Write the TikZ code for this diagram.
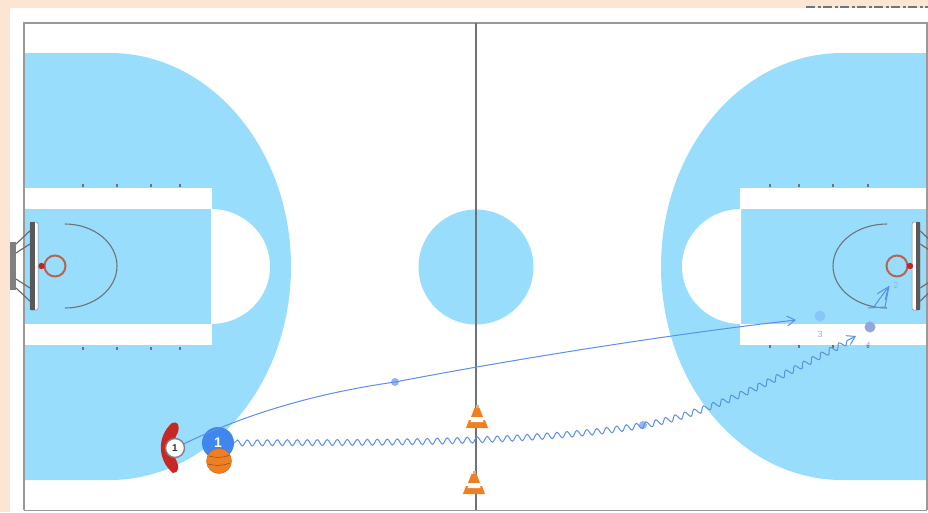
\documentclass[tikz,border=0pt]{standalone}
\usepackage{fontspec}
\setmainfont{Liberation Sans}
\usetikzlibrary{arrows.meta,decorations.pathmorphing}
\definecolor{peach}{HTML}{FCE5D2}
\definecolor{key}{HTML}{99DDFD}
\definecolor{courtline}{HTML}{6E7378}
\definecolor{runblue}{HTML}{5C8FE6}
\definecolor{playerblue}{HTML}{3F86EE}
\definecolor{hoopred}{HTML}{B8624F}
\definecolor{conecol}{HTML}{EE7F22}
\tikzset{
  x=1pt,y=-1pt,
  hash/.style={line width=1.2pt,courtline},
  run/.style={runblue,line width=1pt,-{Straight Barb[length=8pt,width=10pt]}},
  wavy/.style={run,decoration={snake,amplitude=3pt,segment length=10pt,post length=9pt},decorate},
  waydot/.style={circle,fill=runblue!65,inner sep=0pt,minimum size=8pt},
  ghost/.style={circle,inner sep=0pt,minimum size=11pt},
  ghosttext/.style={text=runblue!70,font=\fontsize{9}{9}\selectfont,inner sep=0pt},
  bigplayer/.style={circle,fill=playerblue,text=white,font=\bfseries\fontsize{14}{14}\selectfont,minimum size=32pt,inner sep=0pt},
  smallplayer/.style={circle,fill=white,draw=gray,line width=1.4pt,text=black!80,font=\bfseries\fontsize{10}{10}\selectfont,minimum size=19pt,inner sep=0pt},
  ballnode/.style={circle,fill=conecol,draw=conecol!85!black,line width=.5pt,minimum size=25pt,inner sep=0pt},
  pics/cone/.style={code={
    \fill[conecol] (-11,11) -- (11,11) -- (8,3) -- (-8,3) -- cycle;
    \fill[conecol] (-6,0) -- (6,0) -- (2.5,-9) -- (-2.5,-9) -- cycle;
    \fill[white] (-6.5,5) -- (6.5,5) -- (5,0) -- (-5,0) -- cycle;
    \fill[conecol!70!white] (-1.5,-12) rectangle (1.5,-9);
  }},
  pics/stand/.style={code={
    \fill[gray] (-23,-24) rectangle (-17,24);
    \draw[gray!80!black,line width=1.1pt] (-17,-22) -- (0,-38) (-17,-13) -- (0,-24) (-17,22) -- (0,38) (-17,13) -- (0,24);
    \fill[white,draw=gray,line width=.5pt,rounded corners=1.5pt] (-3,-44) rectangle (5,44);
    \fill[black!65] (-3,-44) rectangle (1.5,44);
  }}
}
\begin{document}
\begin{tikzpicture}
\useasboundingbox (0,0) rectangle (928,512);
\fill[peach] (0,0) rectangle (928,512);
\fill[white] (10,8) rectangle (928,512);
\draw[black!55,line width=1.5pt,dash pattern=on 9pt off 3pt on 3pt off 2pt] (806,7) -- (928,7);
% keys
\begin{scope}
\clip (24,23) rectangle (927,510);
\fill[key] (24,53) -- (110,53) arc[start angle=-90,end angle=90,x radius=181,y radius=213.5] -- (24,480) -- cycle;
\fill[key] (927,53) -- (842,53) arc[start angle=-90,end angle=-270,x radius=181,y radius=213.5] -- (927,480) -- cycle;
\end{scope}
% lanes
\fill[white] (24,188) rectangle (212,345);
\fill[key] (24,209) rectangle (211,324);
\fill[white] (211,209) arc[start angle=-90,end angle=90,x radius=59,y radius=57.5] -- cycle;
\fill[white] (740,188) rectangle (927,345);
\fill[key] (741,209) rectangle (927,324);
\fill[white] (741,209) arc[start angle=-90,end angle=-270,x radius=59,y radius=57.5] -- cycle;
\fill[key] (476,267) circle[radius=57.5];
% lines
\draw[gray!80,line width=1.5pt] (24,510) -- (24,23) -- (927,23) -- (927,510);
\draw[gray!80,line width=1pt] (24,510) -- (927,510);
\draw[courtline,line width=1.6pt] (476,23) -- (476,510);
% ticks
\foreach \x in {83,117,151,180}{
  \draw[hash] (\x,184) -- (\x,187);
  \draw[hash] (\x,347) -- (\x,350);}
\foreach \x in {770,799,833,868}{
  \draw[hash] (\x,184) -- (\x,187);
  \draw[hash] (\x,345) -- (\x,348);}
% restricted arcs
\draw[courtline,line width=1.1pt] (65,224) arc[start angle=-90,end angle=90,x radius=52,y radius=42];
\draw[courtline,line width=1.1pt] (887,224) arc[start angle=-90,end angle=-270,x radius=54,y radius=42];
% backboards
\pic at (33,266) {stand};
\pic[xscale=-1] at (917,266) {stand};
\draw[hoopred,line width=2pt] (55,266) circle[radius=10.5];
\fill[red!70!black!85!white] (41.5,266) circle[radius=3.2];
\draw[hoopred,line width=2pt] (897,266) circle[radius=10.5];
\fill[red!70!black!85!white] (910,266) circle[radius=3.2];
% cones
\pic at (477,417) {cone};
\pic at (474,483) {cone};
% defender arc
\fill[red!75!black!85!white] (172,423) .. controls (157,436) and (157,460) .. (173,473) .. controls (179,473) and (179,466) .. (177,462) .. controls (172,453) and (172,443) .. (178,432) .. controls (180,424) and (177,421) .. (172,423) -- cycle;
% ghost markers
\node[ghost,fill=runblue!30!key] (g3) at (820,316) {};
\node[ghost,fill=violet!25!key] (g4) at (870,327) {};
\node[ghosttext] (t3) at (820,334) {3};
\node[ghosttext] (t4) at (868,345) {4};
\node[ghosttext] (t2) at (896,285) {2};
\coordinate (s2) at (873,308);
\coordinate (e2) at (889,286);
\draw[run,-{Straight Barb[length=12pt,width=10pt]}] (s2) -- (e2);
\draw[runblue,line width=1pt] (868,308) -- (885,307) -- (e2);
% players
\node[bigplayer] (blue) at (218,443) {1};
\node[ballnode] (ball) at (219,461) {};
\draw[conecol!60!black,line width=.5pt] (209,456) .. controls (215,458) and (223,458) .. (230,455) (208,464) .. controls (215,466) and (223,466) .. (230,463);
\node[smallplayer] (defender) at (175,448) {1};
% routes
\coordinate (end3) at (796,320);
\coordinate (end4) at (856,336);
\node[waydot] (mid1) at (395,382) {};
\node[waydot] (mid2) at (643,425) {};
\draw[run] (defender) .. controls (255,410) and (325,392) .. (mid1.center) .. controls (520,358) and (680,333) .. (end3);
\draw[wavy] (blue.east) .. controls (350,442) and (520,445) .. (mid2.center) .. controls (720,410) and (790,370) .. (end4);
\end{tikzpicture}
\end{document}
